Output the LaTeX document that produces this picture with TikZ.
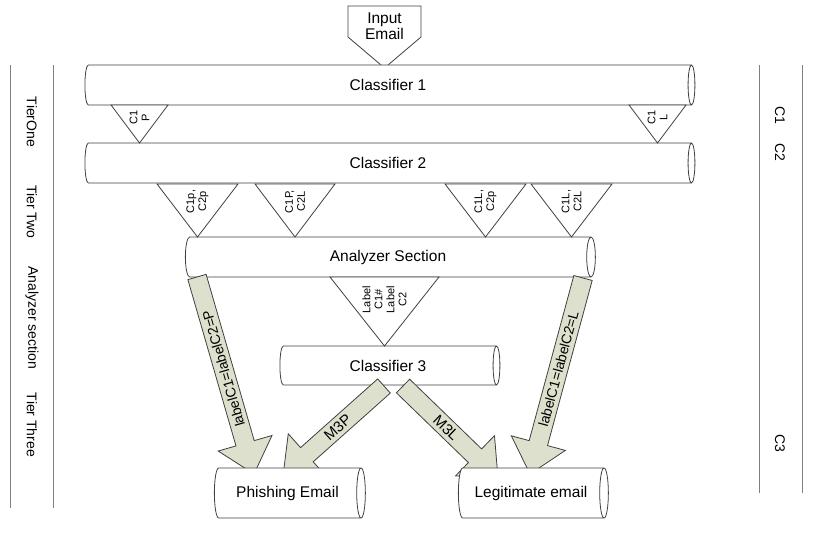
\documentclass[tikz,border=0pt]{standalone}
\usepackage{fontspec}
\setmainfont{Liberation Sans}
\usetikzlibrary{shapes.geometric,calc}

\definecolor{arrowfill}{HTML}{DDE0CC}
\definecolor{edgegray}{HTML}{404040}
\definecolor{rulegray}{HTML}{7F7F7F}

\def\shaftw{9.5pt}
\def\headw{28pt}
\def\headl{32pt}
% block arrow: [label options]{tail}{tip}{label}
\newcommand{\fatarrow}[4][]{%
  \coordinate (hb) at ($(#3)!\headl!(#2)$);
  \filldraw[blockarrow] ($(#2)!\shaftw!90:(#3)$) -- ($(hb)!\shaftw!-90:(#2)$)
    -- ($(hb)!\headw!-90:(#2)$) -- (#3) -- ($(hb)!\headw!90:(#2)$)
    -- ($(hb)!\shaftw!90:(#2)$) -- ($(#2)!\shaftw!-90:(#3)$) -- cycle;
  \path (#2) -- (hb) node[sloped,pos=.55,arrowtext,#1] {#4};
}

\begin{document}
\begin{tikzpicture}[x=1pt,y=-1pt,line width=0.8pt,
  pipe/.style={cylinder,draw=edgegray,fill=white,aspect=0.6,inner sep=0pt,
    font=\fontsize{15.5}{18}\selectfont},
  gate/.style={draw=edgegray,fill=white},
  gatetext/.style={rotate=90,align=center,inner sep=0pt,
    font=\fontsize{11}{12}\selectfont},
  sidetext/.style={rotate=-90,font=\fontsize{14}{16}\selectfont},
  rule/.style={draw=rulegray},
  blockarrow/.style={draw=edgegray,fill=arrowfill,line join=miter},
  arrowtext/.style={inner sep=0pt,font=\fontsize{14}{16}\selectfont}]

\useasboundingbox (0,0) rectangle (817,548);

% input
\draw[gate] (348,6) -- (421,6) -- (421,37) -- (384.5,68) -- (348,37) -- cycle;
\node[align=center,font=\fontsize{15.5}{16}\selectfont] (input) at (384.5,26) {Input\\Email};

% tiers one and two
\node[pipe,minimum width=40,minimum height=610] (c1) at (388,85) {Classifier 1};
\node[pipe,minimum width=40,minimum height=610] (c2) at (388,163) {Classifier 2};

\node[pipe,minimum width=40,minimum height=410] (analyzer) at (388,257) {Analyzer Section};
\node[pipe,minimum width=39,minimum height=220] (c3) at (388,365.5) {Classifier 3};

\foreach \name/\x/\y/\w/\h/\txt in {
    tC1P/139.5/105/28.5/38/{C1\\P},
    tC1L/657.5/105/28.5/38/{C1\\L},
    tPP/197.5/184/40.5/53/{C1p,\\C2p},
    tPL/295/184/40/53/{C1P,\\C2L},
    tLP/485.5/184/40.5/53/{C1L,\\C2p},
    tLL/571.5/184/40.5/53/{C1L,\\C2L},
    tDiff/384.5/277/54.5/69/{Label\\C1\#\\Label\\C2}}
{
  \draw[gate] (\x-\w,\y) -- (\x+\w,\y) -- (\x,\y+\h) -- cycle;
  \node[gatetext] (\name) at (\x,\y+\h*0.33) {\txt};
}

% block arrows
\coordinate (pTail) at (197,277);
\coordinate (pTip) at (254,474);
\coordinate (lTail) at (583,278);
\coordinate (lTip) at (530,474);
\coordinate (mpTail) at (384,386);
\coordinate (mpTip) at (283,476);
\coordinate (mlTail) at (403,386);
\coordinate (mlTip) at (498,478);

\fatarrow[rotate=180]{pTail}{pTip}{labelC1=labelC2=P}
\fatarrow{lTail}{lTip}{labelC1=labelC2=L}
\fatarrow[pos=.6,font=\fontsize{15}{17}\selectfont]{mpTail}{mpTip}{M3P}
\fatarrow[pos=.6,font=\fontsize{15}{17}\selectfont]{mlTail}{mlTip}{M3L}

% outputs
\node[pipe,minimum width=50,minimum height=151] (phish) at (287.5,493) {Phishing Email};
\node[pipe,minimum width=50,minimum height=150] (legit) at (531,493) {Legitimate email};

% side rules
\draw[rule] (10,65) -- (10,508);
\draw[rule] (53,65) -- (53,508);
\node[sidetext] (tierone) at (32,122) {TierOne};
\node[sidetext] (tiertwo) at (32,212) {Tier Two};
\node[sidetext] (anasec) at (32,318) {Analyzer section};
\node[sidetext] (tierthree) at (32,425) {Tier Three};

\draw[rule] (759,65) -- (759,493);
\draw[rule] (802,65) -- (802,493);
\node[sidetext] (rc1) at (780,115) {C1};
\node[sidetext] (rc2) at (780,152) {C2};
\node[sidetext] (rc3) at (780,443) {C3};

\end{tikzpicture}
\end{document}
